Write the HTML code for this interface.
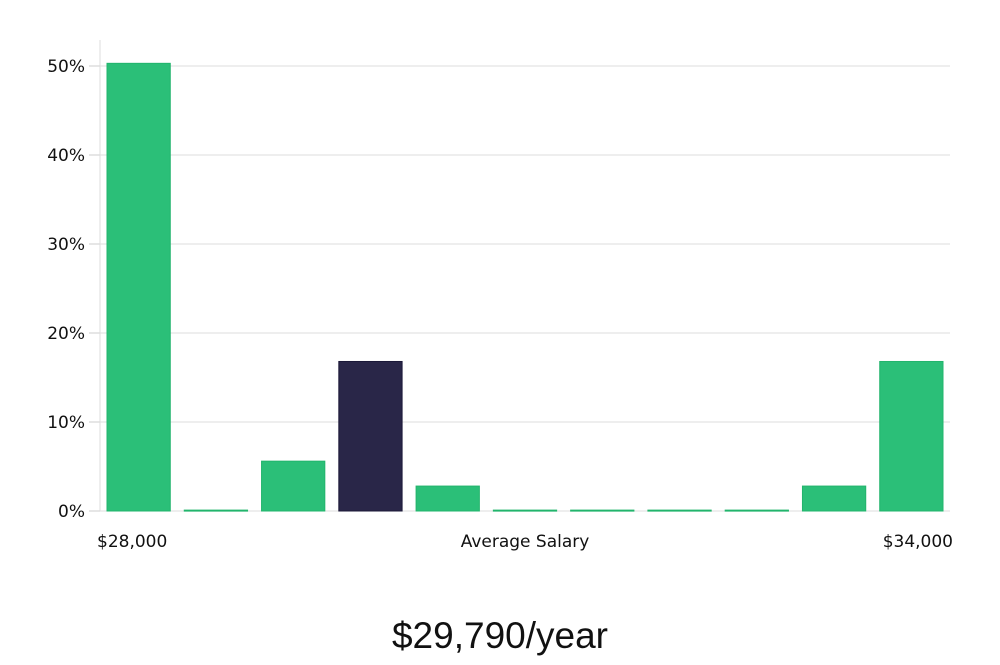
<!DOCTYPE html>
<html><head><meta charset="utf-8"><style>
body{margin:0;background:#fff;width:1000px;height:660px;overflow:hidden}
svg text{font-family:"DejaVu Sans","Liberation Sans",sans-serif}
</style></head><body>
<svg id="chart" width="1000" height="660" xmlns="http://www.w3.org/2000/svg"></svg>
<script>
const categories=["$28,000","b2","b3","b4","b5","b6","b7","b8","b9","b10","$34,000"];
const values=[50.3,0.1,5.6,16.8,2.8,0.1,0.1,0.1,0.1,2.8,16.8];
const highlight=[false,false,false,true,false,false,false,false,false,false,false];
const yTicks=[0,10,20,30,40,50];
const yTickLabels=["0%","10%","20%","30%","40%","50%"];
const xLabels=["$28,000","Average Salary","$34,000"];
const titleText="$29,790/year";

const NS="http://www.w3.org/2000/svg";
const svg=document.getElementById('chart');
const L=100,R=950,T=40,B=511;
const y=v=>B-v*8.9;
const slot=(R-L)/categories.length;
const x=i=>L+slot*i;
function mk(tag,attrs,parent){const e=document.createElementNS(NS,tag);for(const k in attrs)e.setAttribute(k,attrs[k]);(parent||svg).appendChild(e);return e;}

yTicks.forEach((t,i)=>{
  const g=mk('line',{x1:L,x2:R,y1:y(t),y2:y(t),stroke:'#dddddd','stroke-width':1});
  
  
  const tk=mk('line',{x1:89,x2:L,y1:y(t),y2:y(t),stroke:'#cccccc','stroke-width':1});
  
  
  const tx=mk('text',{x:85,y:y(t)+6,'text-anchor':'end','font-size':17,fill:'#111'});
  tx.textContent=yTickLabels[i];
  
  
});
const ax=mk('line',{x1:L,x2:L,y1:T,y2:B,stroke:'#dddddd','stroke-width':1});



values.forEach((v,i)=>{
  const bx=x(i)+7,bw=slot-14;
  const r=mk('rect',{x:bx,y:y(v),width:bw,height:Math.max(1,B-y(v)),fill:highlight[i]?'#292648':'#2bbf78',stroke:highlight[i]?'#1b1838':'#22b46c','stroke-width':1});
  
  
});

const xl=[[97,'start'],[525,'middle'],[953,'end']];
xLabels.forEach((s,i)=>{
  const t=mk('text',{x:xl[i][0],y:547,'text-anchor':xl[i][1],'font-size':17,fill:'#111'});
  t.textContent=s;
  
  
});
const tt=mk('text',{x:500,y:648,'text-anchor':'middle','font-size':37,fill:'#111','font-family':'Liberation Sans Narrow, Liberation Sans, sans-serif'});
tt.setAttribute('style','font-family:"Liberation Sans Narrow","Liberation Sans",sans-serif');
tt.textContent=titleText;


</script>
</body></html>
